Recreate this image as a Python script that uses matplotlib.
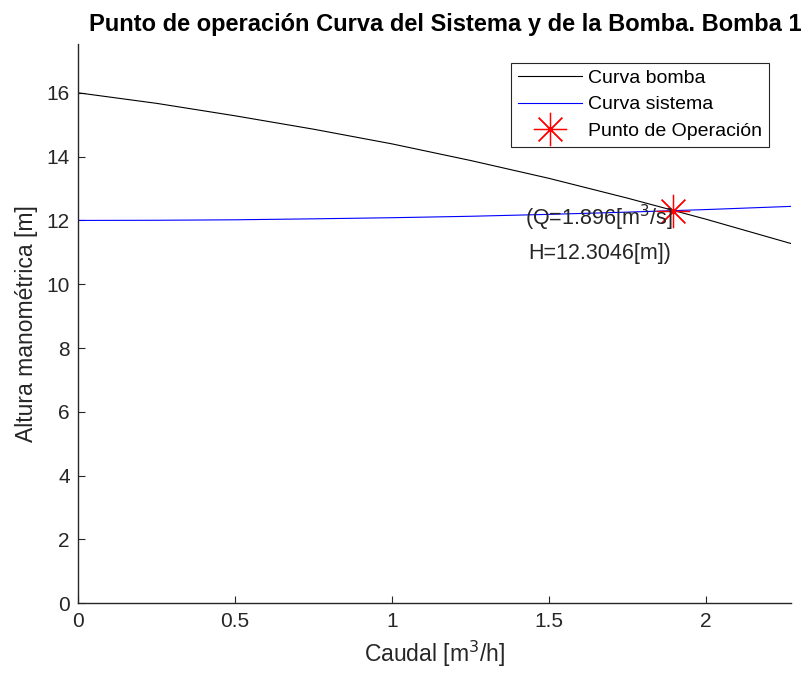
import matplotlib
matplotlib.use("Agg")
from matplotlib import pyplot as plt

plt.rcParams['font.family'] = ['Liberation Sans', 'DejaVu Sans']

# caudal [m3/h] y alturas
caudal = [0.0, 0.25, 0.5, 0.75, 1.0, 1.25, 1.5, 1.75, 2.0, 2.27]
altura_bomba = [16.0, 15.67, 15.28, 14.86, 14.40, 13.88, 13.32, 12.70, 12.04, 11.28]
altura_sistema = [12.0, 12.005, 12.02, 12.05, 12.085, 12.13, 12.19, 12.26, 12.34, 12.44]

q_op = 1.896
h_op = 12.3046

gris = "#262626"

fig = plt.figure(figsize=(8.06, 6.81), dpi=100)
ax = fig.add_axes([0.0968, 0.1141, 0.884, 0.8213])

ax.plot(caudal, altura_bomba, color="black", lw=0.8, label="Curva bomba")
ax.plot(caudal, altura_sistema, color="blue", lw=0.8, label="Curva sistema")
ax.plot([q_op], [h_op], marker=(8, 2, 0), color="red", ms=24, mew=0.9,
        ls="none", label="Punto de Operación")

ax.text(q_op, h_op + 0.25, "(Q=" + str(q_op) + "[m$^3$/s]\nH=" + str(h_op) + "[m])",
        ha="right", va="top", multialignment="center", fontsize=15.5,
        color=gris, linespacing=1.6)

ax.set_xlim(0, 2.27)
ax.set_ylim(0, 17.53)
ax.set_xticks([0, 0.5, 1, 1.5, 2])
ax.set_xticklabels(["0", "0.5", "1", "1.5", "2"])
ax.set_yticks(range(0, 17, 2))

for s in ["top", "right"]:
    ax.spines[s].set_visible(False)
for s in ["left", "bottom"]:
    ax.spines[s].set_color(gris)
    ax.spines[s].set_linewidth(1.0)
ax.tick_params(direction="in", length=5, width=0.8, colors=gris, labelsize=15, pad=6)

ax.set_xlabel("Caudal [m$^3$/h]", fontsize=16.5, color=gris, labelpad=6)
ax.set_ylabel("Altura manométrica [m]", fontsize=16.5, color=gris, labelpad=6)
ax.set_title("Punto de operación Curva del Sistema y de la Bomba. Bomba 1",
             fontsize=17, fontweight="bold", pad=9, x=0.515)

leg = ax.legend(loc="upper right", bbox_to_anchor=(0.983, 0.984), fontsize=14,
                fancybox=False, framealpha=1, edgecolor=gris, handlelength=3.3,
                borderpad=0.35, labelspacing=0.45, handletextpad=0.3)
leg.get_frame().set_linewidth(0.8)

plt.savefig("out.png", dpi=100)
